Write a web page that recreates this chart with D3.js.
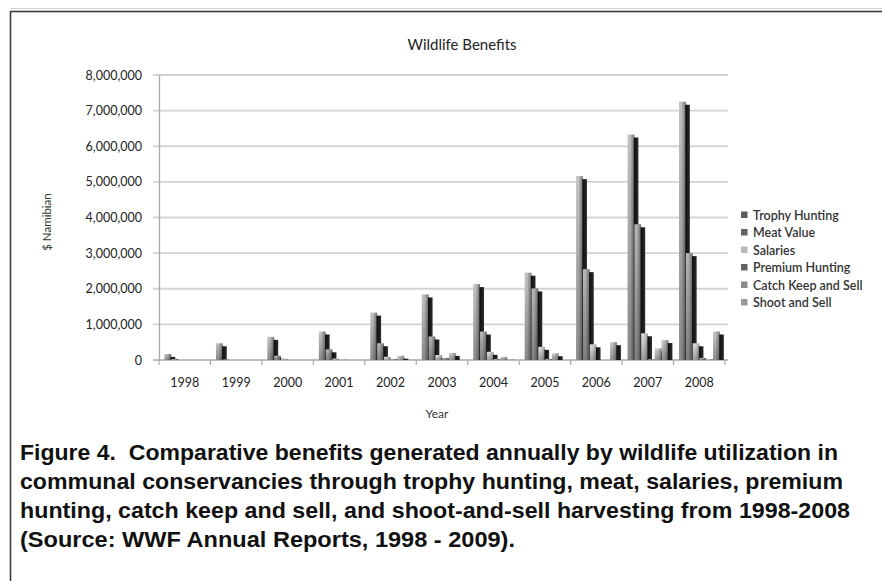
<!DOCTYPE html>
<html>
<head>
<meta charset="utf-8">
<script src="https://cdn.jsdelivr.net/npm/d3@7"></script>
<style>
  html, body { margin: 0; padding: 0; background: #fff; }
  svg { display: block; }
  .caption { white-space: pre; }
</style>
</head>
<body>
<svg id="chart" width="882" height="581"></svg>
<script>
// Wildlife benefits to communal conservancies, N$ per year
const years = ["1998", "1999", "2000", "2001", "2002", "2003", "2004", "2005", "2006", "2007", "2008"];
const seriesNames = ["Trophy Hunting", "Meat Value", "Salaries", "Premium Hunting", "Catch Keep and Sell", "Shoot and Sell"];
const trophyHunting = [170000, 470000, 650000, 800000, 1330000, 1840000, 2130000, 2450000, 5160000, 6330000, 7250000];
const meatValue     = [30000, 15000, 120000, 300000, 470000, 660000, 800000, 2010000, 2550000, 3810000, 3000000];
const salaries      = [0, 10000, 30000, 40000, 90000, 140000, 230000, 370000, 440000, 750000, 470000];
const premiumHunting= [0, 0, 0, 10000, 30000, 60000, 30000, 30000, 0, 20000, 60000];
const catchKeepSell = [0, 0, 0, 0, 120000, 200000, 90000, 190000, 0, 330000, 30000];
const shootAndSell  = [0, 0, 0, 0, 0, 0, 15000, 0, 500000, 560000, 800000];
const yTicks = [0, 1000000, 2000000, 3000000, 4000000, 5000000, 6000000, 7000000, 8000000];
const captionLines = [
  "Figure 4.  Comparative benefits generated annually by wildlife utilization in",
  "communal conservancies through trophy hunting, meat, salaries, premium",
  "hunting, catch keep and sell, and shoot-and-sell harvesting from 1998-2008",
  "(Source: WWF Annual Reports, 1998 - 2009)."
];

const seriesValues = [trophyHunting, meatValue, salaries, premiumHunting, catchKeepSell, shootAndSell];
// front-face shading (left highlight -> right shade) and legend swatch per series
const faceColors = [
  ["#c2c2c2", "#707070"],
  ["#b6b6b6", "#686868"],
  ["#dedede", "#9e9e9e"],
  ["#bababa", "#6a6a6a"],
  ["#cecece", "#8f8f8f"],
  ["#c6c6c6", "#7a7a7a"]
];
const swatchColors = ["#5c5c5c", "#636363", "#b9b9b9", "#636363", "#8a8a8a", "#9a9a9a"];

const svg = d3.select("#chart");
const font = "Lato, 'Open Sans', sans-serif";

// outer frame
svg.append("line").attr("x1", 10).attr("x2", 900).attr("y1", 8.5).attr("y2", 8.5)
  .attr("stroke", "#d4d4d4").attr("stroke-width", 1);
svg.append("rect").attr("x", 10.5).attr("y", 11.5).attr("width", 900).attr("height", 600)
  .attr("fill", "none").attr("stroke", "#3c3c3c").attr("stroke-width", 1.6);

const plot = { left: 159, right: 725, top: 75, bottom: 360 };

const x = d3.scaleBand().domain(years).range([plot.left, plot.right]).padding(0);
const y = d3.scaleLinear().domain([0, 8000000]).range([plot.bottom, plot.top]);

// gradients
const defs = svg.append("defs");
faceColors.forEach((c, i) => {
  const g = defs.append("linearGradient").attr("id", "face" + i)
    .attr("x1", 0).attr("y1", 0).attr("x2", 1).attr("y2", 0);
  g.append("stop").attr("offset", "0%").attr("stop-color", c[0]);
  g.append("stop").attr("offset", "35%").attr("stop-color", c[0]);
  g.append("stop").attr("offset", "100%").attr("stop-color", c[1]);
});
const shade = defs.append("linearGradient").attr("id", "shade")
  .attr("x1", 0).attr("y1", 0).attr("x2", 0).attr("y2", 1);
shade.append("stop").attr("offset", "0%").attr("stop-color", "#000").attr("stop-opacity", 0);
shade.append("stop").attr("offset", "100%").attr("stop-color", "#000").attr("stop-opacity", 0.3);
const side = defs.append("linearGradient").attr("id", "side")
  .attr("x1", 0).attr("y1", 0).attr("x2", 1).attr("y2", 0);
side.append("stop").attr("offset", "0%").attr("stop-color", "#0c0c0c");
side.append("stop").attr("offset", "100%").attr("stop-color", "#2c2c2c");

// gridlines + left ticks
svg.append("g").selectAll("line").data(yTicks).join("line")
  .attr("x1", plot.left - 6).attr("x2", plot.right + 3)
  .attr("y1", d => y(d)).attr("y2", d => y(d))
  .attr("stroke", d => d === 0 ? "#a8a8a8" : "#d3d3d3")
  .attr("stroke-width", d => d === 0 ? 1.3 : 1.8);

// y axis
const yAxis = d3.axisLeft(y).tickValues(yTicks).tickSize(0).tickPadding(17)
  .tickFormat(d3.format(","));
const gy = svg.append("g").attr("transform", `translate(${plot.left},0)`).call(yAxis);
gy.select(".domain").attr("stroke", "#a8a8a8").attr("stroke-width", 1.3);
gy.selectAll("text").attr("font-family", font).attr("font-size", 12.5).attr("fill", "#222");

// x axis
const xAxis = d3.axisBottom(x).tickSize(0).tickPadding(18);
const gx = svg.append("g").attr("transform", `translate(0,${plot.bottom})`).call(xAxis);
gx.select(".domain").remove();
gx.selectAll("text").attr("font-family", font).attr("font-size", 12.5).attr("fill", "#222");
svg.append("g").selectAll("line").data(years.concat(["end"])).join("line")
  .attr("x1", d => d === "end" ? plot.right : x(d))
  .attr("x2", d => d === "end" ? plot.right : x(d))
  .attr("y1", plot.bottom).attr("y2", plot.bottom + 5)
  .attr("stroke", "#a8a8a8").attr("stroke-width", 1.2);

// bars: each value drawn as a shaded front face with a dark side face
const inner = d3.scaleBand().domain(d3.range(seriesNames.length))
  .range([5.5, 5.5 + 6.8 * seriesNames.length]).padding(0);
const sideW = 4.6, sideDrop = 3;
const barsG = svg.append("g");
years.forEach((yr, yi) => {
  seriesValues.forEach((vals, si) => {
    const v = vals[yi];
    if (!v) return;
    const bx = x(yr) + inner(si);
    const w = inner.bandwidth();
    const top = y(v);
    const h = plot.bottom - top;
    barsG.append("rect").attr("x", bx).attr("y", top).attr("width", w).attr("height", h)
      .attr("fill", `url(#face${si})`);
    barsG.append("rect").attr("x", bx).attr("y", top).attr("width", w).attr("height", h)
      .attr("fill", "url(#shade)");
    const sh = Math.max(0, h - sideDrop);
    if (sh > 0) {
      barsG.append("rect").attr("x", bx + w - 0.6).attr("y", top + sideDrop)
        .attr("width", sideW).attr("height", sh).attr("fill", "url(#side)");
    }
  });
});

// titles
svg.append("text").attr("x", 462).attr("y", 50).attr("text-anchor", "middle")
  .attr("font-family", font).attr("font-size", 15).attr("fill", "#222")
  .text("Wildlife Benefits");
svg.append("text").attr("x", 437).attr("y", 418).attr("text-anchor", "middle")
  .attr("font-family", font).attr("font-size", 12).attr("fill", "#333")
  .text("Year");
svg.append("text").attr("transform", "translate(51,222) rotate(-90)")
  .attr("text-anchor", "middle").attr("font-family", font).attr("font-size", 11.5)
  .attr("fill", "#333").text("$ Namibian");

// legend
const lg = svg.append("g").selectAll("g").data(seriesNames).join("g")
  .attr("transform", (d, i) => `translate(741,${215 + i * 17.5})`);
lg.append("rect").attr("x", 0).attr("y", -3.5).attr("width", 6.5).attr("height", 6.5)
  .attr("fill", (d, i) => swatchColors[i]);
lg.append("text").attr("x", 12).attr("y", 4.5)
  .attr("font-family", font).attr("font-size", 12.5).attr("font-weight", 600)
  .attr("fill", "#333").text(d => d);

// caption
const capWidths = [818, 823, 830, 495];
svg.append("g").selectAll("text").data(captionLines).join("text")
  .attr("class", "caption")
  .attr("x", 20).attr("y", (d, i) => 460 + i * 29)
  .attr("font-family", "'Liberation Sans Narrow', 'Arial Narrow', 'Liberation Sans', sans-serif")
  .attr("font-weight", "bold")
  .attr("font-size", 22.5).attr("fill", "#111")
  .attr("textLength", (d, i) => capWidths[i]).attr("lengthAdjust", "spacingAndGlyphs")
  .text(d => d);
</script>
</body>
</html>
